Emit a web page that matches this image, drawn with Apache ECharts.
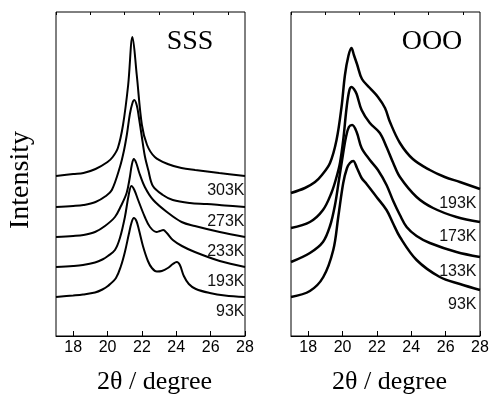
<!DOCTYPE html>
<html>
<head>
<meta charset="utf-8">
<script src="https://cdn.jsdelivr.net/npm/echarts@6/dist/echarts.min.js"></script>
<style>
  html, body { margin: 0; padding: 0; background: #fff; }
  #chart { width: 490px; height: 394px; }
</style>
</head>
<body>
<div id="chart"></div>
<script>
// tick values on the 2θ axis
const majorTicks = [18, 20, 22, 24, 26, 28];
const minorTicks = [17, 19, 21, 23, 25, 27];

// SSS panel, offset intensity (arb. units) vs 2θ
const sss303 = [[17.0,160],[18.0,162],[18.6,163],[19.3,167],[20.0,174],[20.3,179],[20.6,188],[20.9,211],[21.2,251],[21.45,299],[21.7,261],[22.0,211],[22.3,191],[22.75,179],[23.5,172],[24.3,168],[25.1,166],[26.5,163],[28.0,160]];
const sss273 = [[17.0,129],[18.0,130],[18.6,131],[19.3,134],[19.9,140],[20.25,146],[20.72,169],[20.95,185],[21.13,202],[21.3,222],[21.45,233],[21.56,236],[21.71,230],[21.83,218],[21.98,201],[22.17,180],[22.37,166],[22.64,150],[23.22,141],[23.8,136],[24.79,133],[25.78,132],[26.83,130.5],[28.0,129]];
const sss233 = [[17.0,99],[18.0,100],[18.6,101],[19.27,104],[19.85,110],[20.43,119],[20.78,130],[21.11,143],[21.3,159],[21.41,171],[21.53,177],[21.67,173],[21.83,164],[22.17,149],[22.66,136],[23.53,123],[24.31,114],[25.08,110],[26.53,104],[28.0,99]];
const sss193 = [[17.0,69],[18.0,70],[18.57,71],[19.27,73.5],[19.7,76.5],[20.02,80],[20.43,86],[20.72,98],[21.01,119],[21.22,140],[21.39,150],[21.56,146],[21.78,136],[22.17,119],[22.47,109],[22.85,104],[23.05,105],[23.24,106],[23.45,103],[23.8,96],[24.33,90],[25.08,84],[26.53,75],[28.0,69]];
const sss93 = [[17.0,39],[18.0,40.5],[18.57,41.5],[19.27,43.5],[19.7,46.5],[20.02,50],[20.49,58],[20.78,70],[21.01,84],[21.24,102],[21.39,113],[21.53,118],[21.68,115],[21.83,106],[22.06,90],[22.35,75],[22.58,68],[22.87,64.5],[23.16,65],[23.51,68],[23.8,72],[24.03,74],[24.21,71],[24.44,60],[24.73,52],[25.14,47],[25.95,43],[26.83,40.5],[28.0,39]];

// OOO panel
const ooo193 = [[17.0,143],[17.81,148],[18.4,154],[18.8,161],[19.27,173],[19.65,196],[19.94,229],[20.14,261],[20.34,280],[20.52,288],[20.66,281],[20.84,272],[21.13,257],[21.59,248],[22.06,239],[22.47,228],[22.76,214],[23.34,193],[24.09,177],[25.08,166],[25.95,159],[26.83,154],[28.0,147]];
const ooo173 = [[17.0,108],[18.1,114],[18.86,126],[19.35,143],[19.65,159],[19.85,173],[20.04,196],[20.24,229],[20.4,246],[20.53,249],[20.66,247],[20.82,242],[21.11,226],[21.59,213],[22.17,203],[22.56,189],[22.95,173],[23.34,159],[24.31,139],[25.27,128],[26.63,119],[28.0,114]];
const ooo133 = [[17.0,74],[18.1,83],[18.86,94],[19.27,110],[19.56,131],[19.79,156],[20.02,181],[20.2,199],[20.37,209],[20.56,211],[20.82,204],[21.11,188],[21.59,176],[22.06,166],[22.56,151],[22.95,135],[23.34,121],[23.73,109],[24.31,100],[25.08,93],[26.63,84],[28.0,79]];
const ooo93 = [[17.0,39],[18.1,45],[18.88,59],[19.46,86],[19.75,119],[20.04,153],[20.26,168],[20.43,173],[20.62,175],[20.84,168],[21.11,158],[21.4,152],[21.98,139],[22.56,126],[22.93,113],[23.34,99],[24.31,76],[25.66,59],[26.83,52],[28.0,46]];

const sssNames = ["303K", "273K", "233K", "193K", "93K"];
const oooNames = ["193K", "173K", "133K", "93K"];

const chart = echarts.init(document.getElementById("chart"), null, { renderer: "canvas" });

const sans = "Liberation Sans";
const serif = "Liberation Serif";

const makeX = (gridIndex) => [
  {
    gridIndex,
    type: "value",
    min: 17,
    max: 28,
    axisLine: { show: true, lineStyle: { color: "#000", width: 1 } },
    axisTick: { inside: true, length: 5, customValues: majorTicks, lineStyle: { color: "#000" } },
    axisLabel: { customValues: majorTicks, fontSize: 16, fontFamily: sans, color: "#000", margin: 4 },
    splitLine: { show: false },
    name: "2θ / degree",
    nameLocation: "middle",
    nameGap: 33,
    nameTextStyle: { fontFamily: serif, fontSize: 26, color: "#000", padding: [0, 0, 0, 8] },
  },
  {
    gridIndex,
    type: "value",
    min: 17,
    max: 28,
    axisLine: { show: false },
    axisTick: { inside: true, length: 3, customValues: minorTicks, lineStyle: { color: "#000" } },
    axisLabel: { show: false },
    splitLine: { show: false },
  },
];

const makeY = (gridIndex, name) => ({
  gridIndex,
  type: "value",
  min: 0,
  max: 324,
  axisLine: { show: false },
  axisTick: { show: false },
  axisLabel: { show: false },
  splitLine: { show: false },
  name: name,
  nameLocation: "middle",
  nameRotate: 90,
  nameGap: 21,
  nameTextStyle: { fontFamily: serif, fontSize: 28, color: "#000", padding: [0, 12, 0, 0] },
});

// temperature tag sits under the right end of each trace
const makeSeries = (data, name, xAxisIndex, yAxisIndex, width, dx) => ({
  type: "line",
  name,
  data: data.map((p, i) =>
    i === data.length - 1
      ? {
          value: p,
          label: {
            show: true,
            formatter: name,
            position: [dx, 15],
            align: "right",
            verticalAlign: "middle",
            fontSize: 16,
            fontFamily: sans,
            color: "#111",
          },
        }
      : p
  ),
  xAxisIndex,
  yAxisIndex,
  smooth: 0.35,
  showSymbol: true,
  showAllSymbol: true,
  symbol: "circle",
  symbolSize: 1,
  itemStyle: { color: "rgba(0,0,0,0)", borderWidth: 0 },
  clip: false,
  lineStyle: { color: "#000", width },
  silent: true,
});

const sssData = [sss303, sss273, sss233, sss193, sss93];
const oooData = [ooo193, ooo173, ooo133, ooo93];

const option = {
  animation: false,
  backgroundColor: "#fff",
  grid: [
    { left: 56, top: 12, width: 189, height: 324, show: true, borderColor: "#000", borderWidth: 1, outerBoundsMode: "none" },
    { left: 291, top: 12, width: 189, height: 324, show: true, borderColor: "#000", borderWidth: 1, outerBoundsMode: "none" },
  ],
  xAxis: [...makeX(0), ...makeX(1)],
  yAxis: [makeY(0, "Intensity"), makeY(1, "")],
  graphic: [
    { type: "text", x: 190, y: 42, style: { text: "SSS", font: "28px 'Liberation Serif'", fill: "#000", align: "center", verticalAlign: "middle" } },
    { type: "text", x: 432, y: 42, style: { text: "OOO", font: "28px 'Liberation Serif'", fill: "#000", align: "center", verticalAlign: "middle" } },
  ],
  series: [
    ...sssData.map((d, i) => makeSeries(d, sssNames[i], 0, 0, 2, 0)),
    ...oooData.map((d, i) => makeSeries(d, oooNames[i], 2, 1, 2.5, -3)),
  ],
};

chart.setOption(option);
</script>
</body>
</html>
